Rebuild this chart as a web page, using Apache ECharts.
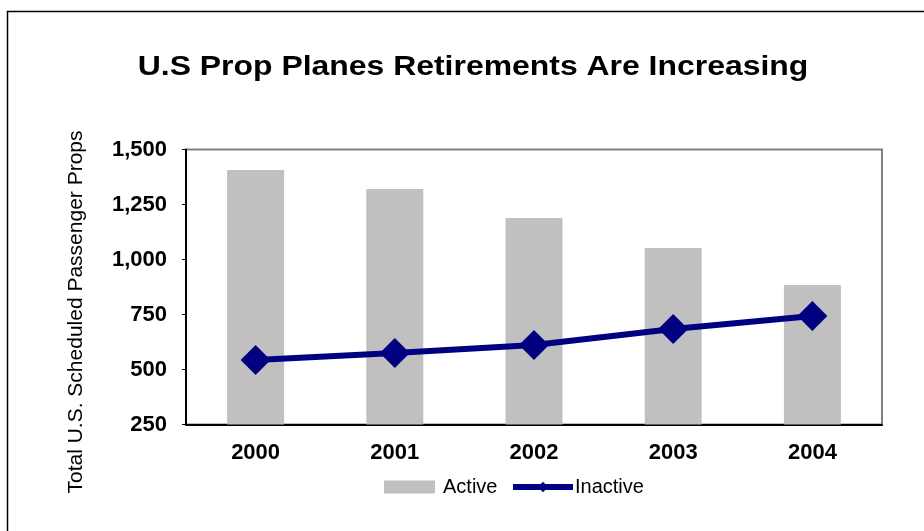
<!DOCTYPE html>
<html><head><meta charset="utf-8">
<script src="https://cdn.jsdelivr.net/npm/echarts@6/dist/echarts.min.js"></script>
<style>html,body{margin:0;padding:0;background:#fff}#c{width:924px;height:531px}</style>
</head><body><div id="c"></div>
<script>
const categories = ['2000','2001','2002','2003','2004'];
const activeValues = [1407, 1320, 1189, 1052, 884];
const inactiveValues = [543, 575, 611, 684, 743];
const yTicks = [250, 500, 750, 1000, 1250, 1500];
const titleText = 'U.S Prop Planes Retirements Are Increasing';
const yAxisTitle = 'Total U.S. Scheduled Passenger Props';

const FONT = 'Liberation Sans, Arial, sans-serif';
const chart = echarts.init(document.getElementById('c'));
chart.setOption({
  animation: false,
  backgroundColor: '#fff',
  graphic: [
    {type: 'rect', left: 5, top: 9, shape: {width: 930, height: 540},
      style: {fill: 'none', stroke: '#000', lineWidth: 1.5}, silent: true},
    {type: 'text', x: 473, y: 67, scaleX: 1.14, silent: true,
      style: {text: titleText, font: 'bold 28px ' + FONT, fill: '#000', textAlign: 'center', textVerticalAlign: 'middle'}},
    {type: 'text', x: 76, y: 312, rotation: Math.PI / 2, silent: true,
      style: {text: yAxisTitle, font: '21px ' + FONT, fill: '#000', textAlign: 'center', textVerticalAlign: 'middle'}}
  ],
  legend: [
    {left: 379, top: 472, itemWidth: 51, itemHeight: 13, itemGap: 0,
      textStyle: {fontFamily: FONT, fontSize: 20, color: '#000', padding: [0, 0, 0, 3]},
      data: [{name: 'Active', icon: 'rect'}]},
    {left: 505, top: 472, itemWidth: 60, itemHeight: 13, itemGap: 0,
      lineStyle: {width: 6, color: '#000080'},
      textStyle: {fontFamily: FONT, fontSize: 20, color: '#000', padding: [0, 0, 0, -3]},
      data: [{name: 'Inactive'}]}
  ],
  grid: {left: 186, right: 42, top: 149.5, bottom: 106.5, show: true, borderColor: '#808080', borderWidth: 2},
  xAxis: {
    type: 'category', data: categories,
    axisLine: {lineStyle: {color: '#000', width: 2}},
    axisTick: {show: false},
    axisLabel: {margin: 17, fontFamily: FONT, fontWeight: 'bold', fontSize: 22, color: '#000'}
  },
  yAxis: {
    type: 'value', min: 250, max: 1500, interval: 250,
    axisLine: {show: true, lineStyle: {color: '#000', width: 2}},
    axisTick: {show: true, length: 4, lineStyle: {color: '#000'}},
    splitLine: {show: false},
    axisLabel: {margin: 19, fontFamily: FONT, fontWeight: 'bold', fontSize: 22, color: '#000',
      formatter: v => yTicks.includes(v) ? v.toLocaleString('en-US') : ''}
  },
  series: [
    {name: 'Active', type: 'bar', data: activeValues, barWidth: 57, itemStyle: {color: '#C0C0C0'}},
    {name: 'Inactive', type: 'line', data: inactiveValues, symbol: 'diamond', symbolSize: 30,
      lineStyle: {color: '#000080', width: 6}, itemStyle: {color: '#000080'}}
  ]
});
</script></body></html>
